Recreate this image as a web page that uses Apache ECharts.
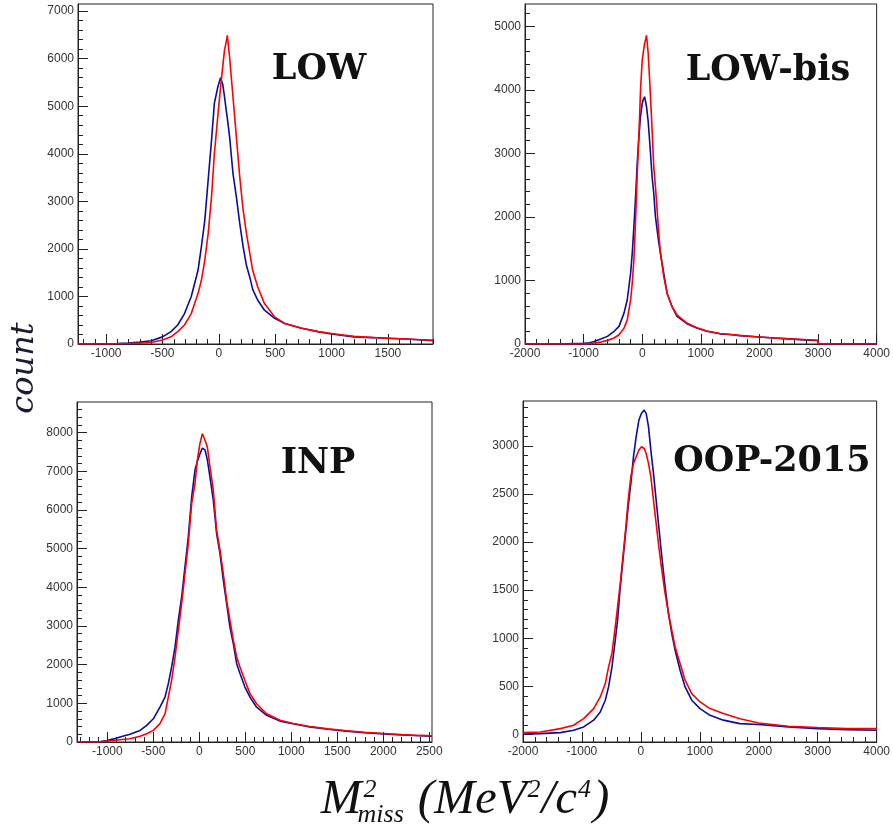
<!DOCTYPE html>
<html>
<head>
<meta charset="utf-8">
<script src="https://cdn.jsdelivr.net/npm/echarts@6/dist/echarts.min.js"></script>
<style>
html,body{margin:0;padding:0;background:#fff;}
#chart{width:893px;height:825px;}
</style>
</head>
<body>
<div id="chart"></div>
<script>
// ---------- DATA (bin centres and counts) ----------
const panelTitles = ['LOW', 'LOW-bis', 'INP', 'OOP-2015'];

const lowX = [-1250, -1000, -900, -800, -700, -600, -500, -425, -365, -305, -245, -185, -155, -125, -95, -65, -40, -10, 15, 35, 50, 65, 75, 95, 125, 155, 185, 215, 245, 275, 300, 345, 405, 495, 585, 735, 880, 1000, 1100, 1200, 1300, 1400, 1500, 1600, 1700, 1800, 1900];
const lowBlue = [0, 5, 10, 20, 40, 70, 150, 260, 400, 640, 1000, 1550, 2050, 2600, 3450, 4290, 5060, 5400, 5600, 5450, 5200, 4920, 4750, 4360, 3590, 3100, 2540, 2050, 1650, 1400, 1150, 920, 710, 540, 430, 330, 260, 210, 180, 150, 140, 130, 120, 110, 100, 85, 70];
const lowRed = [0, 0, 5, 10, 20, 30, 85, 150, 260, 400, 640, 1060, 1340, 1760, 2320, 3100, 4000, 4780, 5400, 5850, 6180, 6350, 6490, 6040, 5200, 4360, 3520, 2820, 2320, 1900, 1550, 1200, 850, 570, 430, 330, 260, 220, 190, 160, 145, 130, 120, 110, 100, 90, 80];

const lowBisX = [-2000, -1500, -1000, -900, -820, -706, -593, -480, -396, -311, -255, -198, -170, -142, -113, -85, -57, -29, 0, 20, 40, 60, 74, 102, 130, 169, 197, 226, 254, 282, 311, 367, 424, 508, 593, 762, 932, 1101, 1327, 1500, 1666, 2000, 2250, 2500, 2750, 2995, 3005, 3500, 4000];
const lowBisBlue = [0, 0, 10, 20, 40, 78, 120, 200, 277, 486, 696, 1115, 1430, 1850, 2320, 2840, 3260, 3580, 3785, 3850, 3890, 3800, 3730, 3500, 3150, 2630, 2370, 2000, 1800, 1600, 1430, 1115, 800, 590, 435, 320, 250, 200, 160, 150, 130, 110, 95, 80, 65, 55, 0, 0, 0];
const lowBisRed = [0, 0, 0, 5, 15, 30, 57, 94, 146, 250, 382, 696, 958, 1325, 1953, 2690, 3260, 3995, 4465, 4600, 4727, 4800, 4858, 4570, 4100, 3365, 2790, 2475, 2110, 1743, 1430, 1063, 800, 590, 460, 330, 255, 205, 165, 150, 135, 110, 95, 80, 70, 60, 0, 0, 0];

const inpX = [-1330, -1100, -1007, -930, -862, -754, -645, -572, -500, -428, -373, -337, -301, -264, -228, -192, -156, -120, -83, -47, -22, 7, 33, 51, 62, 87, 116, 152, 188, 225, 261, 297, 333, 370, 406, 442, 496, 551, 623, 732, 877, 1022, 1200, 1400, 1600, 1800, 2000, 2200, 2400, 2530];
const inpBlue = [0, 0, 40, 80, 130, 200, 300, 430, 600, 900, 1160, 1510, 1940, 2460, 3150, 3750, 4530, 5300, 6340, 7030, 7250, 7450, 7600, 7630, 7550, 7300, 6850, 6250, 5390, 4870, 4180, 3580, 2970, 2540, 2030, 1770, 1420, 1160, 900, 690, 540, 470, 390, 330, 280, 240, 210, 180, 160, 150];
const inpRed = [0, 0, 25, 40, 60, 85, 150, 215, 300, 475, 730, 1160, 1600, 2200, 2890, 3580, 4350, 5130, 6170, 6680, 7280, 7720, 7970, 7950, 7800, 7630, 7110, 6510, 5470, 4960, 4350, 3660, 3150, 2630, 2200, 1940, 1590, 1250, 990, 730, 560, 480, 400, 340, 290, 250, 220, 190, 170, 160];

const oopX = [-2000, -1705, -1366, -1141, -971, -802, -689, -604, -548, -491, -435, -395, -350, -305, -260, -215, -170, -125, -80, -34, 11, 56, 90, 129, 169, 214, 259, 304, 355, 411, 468, 524, 581, 665, 750, 863, 1004, 1173, 1399, 1681, 2000, 2500, 3000, 3500, 4000];
const oopBlue = [5, 10, 20, 45, 80, 150, 235, 357, 495, 700, 980, 1190, 1535, 1810, 2090, 2370, 2610, 2890, 3094, 3267, 3337, 3371, 3337, 3198, 2955, 2713, 2436, 2158, 1847, 1535, 1258, 1050, 876, 668, 495, 357, 270, 200, 150, 114, 104, 80, 62, 52, 45];
const oopRed = [20, 27, 62, 97, 166, 270, 391, 530, 703, 842, 1119, 1327, 1570, 1847, 2124, 2436, 2679, 2817, 2886, 2955, 2990, 2972, 2920, 2817, 2679, 2436, 2193, 1951, 1708, 1466, 1258, 1084, 911, 738, 565, 426, 339, 270, 218, 165, 120, 86, 73, 62, 62];

// tick labels of each panel
const lowXTicks = [-1000, -500, 0, 500, 1000, 1500];
const lowYTicks = [0, 1000, 2000, 3000, 4000, 5000, 6000, 7000];
const lowBisXTicks = [-2000, -1000, 0, 1000, 2000, 3000, 4000];
const lowBisYTicks = [0, 1000, 2000, 3000, 4000, 5000];
const inpXTicks = [-1000, -500, 0, 500, 1000, 1500, 2000, 2500];
const inpYTicks = [0, 1000, 2000, 3000, 4000, 5000, 6000, 7000, 8000];
const oopXTicks = [-2000, -1000, 0, 1000, 2000, 3000, 4000];
const oopYTicks = [0, 500, 1000, 1500, 2000, 2500, 3000];

// axis ranges
const xRanges = [[-1250, 1900], [-2000, 4000], [-1330, 2530], [-2000, 4000]];
const yRanges = [[0, 7150], [0, 5350], [0, 8790], [-77, 3465]];

// ---------- CHART ----------
const chart = echarts.init(document.getElementById('chart'));
const AX = '#222';
const BLUE = '#0c0c9c';
const RED = '#ff0000';

const grids = [
  {left: 78, top: 4, width: 355, height: 340},
  {left: 525, top: 4, width: 354, height: 340},
  {left: 77, top: 402, width: 355, height: 340},
  {left: 523, top: 401, width: 355, height: 341}
];

const xTicks = [lowXTicks, lowBisXTicks, inpXTicks, oopXTicks];
const yTicks = [lowYTicks, lowBisYTicks, inpYTicks, oopYTicks];

function minorValues(ticks, range) {
  const step = (ticks[1] - ticks[0]) / 5;
  const out = [];
  const start = Math.ceil(range[0] / step) * step;
  for (let v = start; v <= range[1] + 1e-9; v += step) {
    const r = Math.round(v * 1000) / 1000;
    if (ticks.indexOf(r) < 0) out.push(r);
  }
  return out;
}

function majorAxis(dim, i, range, ticks) {
  return {
    type: 'value', gridIndex: i, min: range[0], max: range[1],
    position: dim === 'x' ? 'bottom' : 'left',
    axisLine: {show: true, onZero: false, lineStyle: {color: AX, width: 1}},
    axisTick: {show: true, inside: true, length: 10, customValues: ticks, lineStyle: {color: AX, width: 1}},
    minorTick: {show: false},
    splitLine: {show: false},
    axisLabel: {show: true, customValues: ticks, margin: 4, color: '#333', fontSize: 12,
      formatter: function (v) { return String(Math.round(v)); }}
  };
}
function minorAxis(dim, i, range, ticks) {
  return {
    type: 'value', gridIndex: i, min: range[0], max: range[1],
    position: dim === 'x' ? 'bottom' : 'left',
    axisLine: {show: false, onZero: false},
    axisTick: {show: true, inside: true, length: 5, customValues: minorValues(ticks, range), lineStyle: {color: AX, width: 1}},
    minorTick: {show: false},
    splitLine: {show: false},
    axisLabel: {show: false}
  };
}

const xAxes = [], yAxes = [];
for (let i = 0; i < 4; i++) {
  xAxes.push(majorAxis('x', i, xRanges[i], xTicks[i]));
  yAxes.push(majorAxis('y', i, yRanges[i], yTicks[i]));
}
for (let i = 0; i < 4; i++) {
  xAxes.push(minorAxis('x', i, xRanges[i], xTicks[i]));
  yAxes.push(minorAxis('y', i, yRanges[i], yTicks[i]));
}

const xs = [lowX, lowBisX, inpX, oopX];
const blues = [lowBlue, lowBisBlue, inpBlue, oopBlue];
const reds = [lowRed, lowBisRed, inpRed, oopRed];

const series = [];
for (let i = 0; i < 4; i++) {
  series.push({
    type: 'line', xAxisIndex: i, yAxisIndex: i, showSymbol: false,
    lineStyle: {color: BLUE, width: 1.6}, z: 3,
    data: xs[i].map((x, k) => [x, blues[i][k]])
  });
  series.push({
    type: 'line', xAxisIndex: i, yAxisIndex: i, showSymbol: false,
    lineStyle: {color: RED, width: 1.6}, z: 4,
    data: xs[i].map((x, k) => [x, reds[i][k]])
  });
}

// panel titles
const titlePos = [[319, 70], [768, 71], [318, 464], [772, 462]];
const graphics = panelTitles.map((t, i) => ({
  type: 'text', x: titlePos[i][0], y: titlePos[i][1], z: 10,
  style: {text: t, fontFamily: 'DejaVu Serif', fontWeight: 'bold', fontSize: 35, fill: '#111', align: 'center', verticalAlign: 'middle'}
}));

// y-axis title
graphics.push({
  type: 'text', x: 25, y: 368, rotation: Math.PI / 2, z: 10,
  style: {text: 'count', fontFamily: 'DejaVu Serif', fontStyle: 'italic', fontSize: 32, fill: '#1a1a33', align: 'center', verticalAlign: 'middle'}
});

// x-axis title: M^2_miss (MeV^2/c^4), laid out with measured widths
const FAM = 'Liberation Serif';
const S = 49, s = 26;
const cv = document.createElement('canvas').getContext('2d');
function w(text, size) { cv.font = 'italic ' + size + 'px "' + FAM + '"'; return cv.measureText(text).width; }
const base = 815, supBase = 798, subBase = 823;
const parts = [];
let cx = 0;
parts.push({t: 'M', x: cx, b: base, sz: S}); cx += w('M', S);
parts.push({t: '2', x: cx + 2, b: supBase, sz: s});
parts.push({t: 'miss', x: cx - 4, b: subBase, sz: s});
cx = Math.max(cx + 2 + w('2', s), cx - 4 + w('miss', s)) + 14;
parts.push({t: '(MeV', x: cx, b: base, sz: S}); cx += w('(MeV', S);
parts.push({t: '2', x: cx + 1, b: supBase, sz: s}); cx += w('2', s) + 2;
parts.push({t: '/c', x: cx, b: base, sz: S}); cx += w('/c', S);
parts.push({t: '4', x: cx + 1, b: supBase, sz: s}); cx += w('4', s) + 3;
parts.push({t: ')', x: cx, b: base, sz: S}); cx += w(')', S);
const offset = 465 - cx / 2;
parts.forEach(p => graphics.push({
  type: 'text', x: p.x + offset, y: p.b - 0.305 * p.sz, z: 10,
  style: {text: p.t, fontFamily: FAM, fontStyle: 'italic', fontSize: p.sz, fill: '#111', align: 'left', verticalAlign: 'middle'}
}));

chart.setOption({
  animation: false,
  backgroundColor: '#fff',
  grid: grids.map(g => Object.assign({show: true, borderColor: AX, borderWidth: 1}, g)),
  xAxis: xAxes,
  yAxis: yAxes,
  series: series,
  graphic: graphics
});
</script>
</body>
</html>
